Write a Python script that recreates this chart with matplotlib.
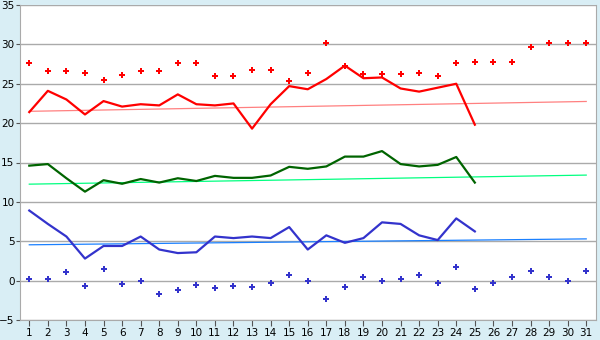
import matplotlib.pyplot as plt
import numpy as np

days = np.arange(1, 32)

# daily max (red diamonds), all 31 days
max_points = [27.6, 26.6, 26.6, 26.4, 25.5, 26.1, 26.6, 26.6, 27.6, 27.6,
              26.0, 26.0, 26.7, 26.7, 25.3, 26.4, 30.2, 27.3, 26.2, 26.2,
              26.3, 26.4, 26.0, 27.6, 27.8, 27.8, 27.8, 29.7, 30.2, 30.2, 30.2]
# daily min (blue diamonds)
min_points = [0.15, 0.15, 1.05, -0.65, 1.5, -0.4, 0.0, -1.65, -1.15, -0.5,
              -0.9, -0.65, -0.8, -0.3, 0.75, 0.0, -2.3, -0.8, 0.5, 0.0,
              0.15, 0.75, -0.3, 1.75, -1.05, -0.3, 0.5, 1.25, 0.5, -0.1, 1.25]

# measured series, days 1-25
red_line = [21.4, 24.1, 23.0, 21.1, 22.8, 22.1, 22.4, 22.25, 23.65, 22.4,
            22.25, 22.5, 19.3, 22.4, 24.7, 24.3, 25.6, 27.3, 25.7, 25.8,
            24.4, 24.0, 24.5, 25.0, 19.8]
green_line = [14.6, 14.8, 13.0, 11.3, 12.75, 12.3, 12.9, 12.45, 13.0, 12.65,
              13.3, 13.05, 13.05, 13.35, 14.45, 14.2, 14.5, 15.75, 15.75, 16.45,
              14.8, 14.5, 14.7, 15.7, 12.45]
blue_line = [8.9, 7.2, 5.6, 2.8, 4.4, 4.4, 5.6, 3.95, 3.5, 3.6,
             5.6, 5.4, 5.6, 5.4, 6.8, 3.95, 5.75, 4.8, 5.4, 7.4,
             7.2, 5.75, 5.15, 7.9, 6.25]

# trend lines: value at day 1 and day 31
trend_days = [1, 31]
red_trend = [21.5, 22.75]
green_trend = [12.25, 13.4]
blue_trend = [4.55, 5.3]

fig = plt.figure(figsize=(6, 3.4), dpi=100, facecolor='#d9eef5')
ax = fig.add_axes([20 / 600, 1 - 320 / 340, 575.5 / 600, 315 / 340])
ax.set_facecolor('white')

ax.set_xlim(0.5, 31.5)
ax.set_ylim(-5, 35)
ax.set_yticks(range(-5, 36, 5))
ax.set_xticks(days)
ax.grid(axis='y', color='#aaaaaa', linewidth=1)
ax.set_axisbelow(True)

for side in ['left', 'right', 'top', 'bottom']:
    ax.spines[side].set_color('#aaaaaa')
ax.spines['top'].set_visible(False)
ax.tick_params(axis='x', colors='#555555', labelcolor='black', labelsize=7.5, length=4, pad=2)
ax.tick_params(axis='y', colors='#555555', labelcolor='black', labelsize=7.5, length=3, pad=1)

n = len(red_line)
ax.plot(trend_days, red_trend, color='#ff8080', lw=0.9)
ax.plot(trend_days, green_trend, color='#00ff80', lw=0.9)
ax.plot(trend_days, blue_trend, color='#1a80ff', lw=0.9)

ax.plot(days[:n], red_line, color='#ff0000', lw=1.6)
ax.plot(days[:n], green_line, color='#006400', lw=1.6)
ax.plot(days[:n], blue_line, color='#3333cc', lw=1.6)

ax.plot(days, max_points, ls='none', marker='P', ms=4.5, color='#ff0000', mew=0)
ax.plot(days, min_points, ls='none', marker='P', ms=4.5, color='#3333cc', mew=0)

fig.savefig('out.png', dpi=100, facecolor=fig.get_facecolor())
